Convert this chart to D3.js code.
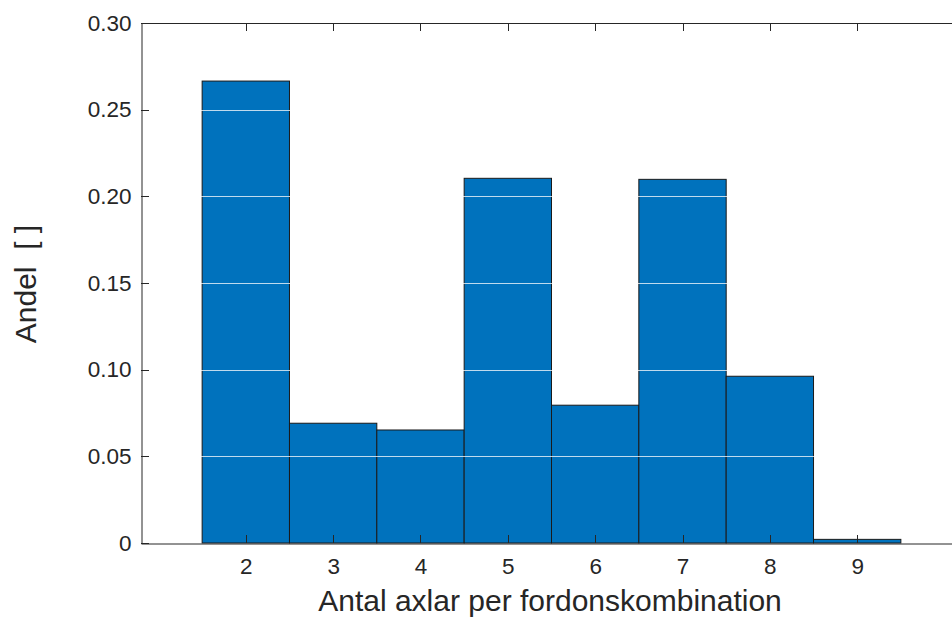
<!DOCTYPE html>
<html>
<head>
<meta charset="utf-8">
<script src="https://cdn.jsdelivr.net/npm/d3@7"></script>
<style>
  html, body { margin: 0; padding: 0; background: #fff; }
  text { font-family: "Liberation Sans", Arial, Helvetica, sans-serif; fill: #262626; white-space: pre; }
</style>
</head>
<body>
<svg id="chart" width="952" height="618"></svg>
<script>
// Share of vehicle combinations by number of axles
const axles = [2, 3, 4, 5, 6, 7, 8, 9];
const shares = [0.2665, 0.0691, 0.0652, 0.2104, 0.0795, 0.2098, 0.0962, 0.0021];
const yTicks = [0, 0.05, 0.10, 0.15, 0.20, 0.25, 0.30];
const yTickLabels = ["0", "0.05", "0.10", "0.15", "0.20", "0.25", "0.30"];
const xLabel = "Antal axlar per fordonskombination";
const yLabel = "Andel  [ ]";

const svg = d3.select("#chart");
const plotLeft = 141, plotTop = 23, plotBottom = 543, plotRight = 962;

const x = d3.scaleLinear().domain([0.8, 10.2]).range([plotLeft, plotRight]);
const y = d3.scaleLinear().domain([0, 0.30]).range([plotBottom, plotTop]);

const ink = "#262626";
const tickFont = 22.5;
const labelFont = 30;

// Bars (histogram bins of width 1 centred on each axle count)
svg.append("g").selectAll("rect")
  .data(axles.map((a, i) => ({ a, v: shares[i] })))
  .join("rect")
  .attr("x", d => x(d.a - 0.5))
  .attr("y", d => y(d.v))
  .attr("width", d => x(d.a + 0.5) - x(d.a - 0.5))
  .attr("height", d => y(0) - y(d.v))
  .attr("fill", "#0072BD")
  .attr("stroke", "#1a1a1a")
  .attr("stroke-width", 1);

// Horizontal grid lines, drawn on top of the bars
svg.append("g").selectAll("line")
  .data(yTicks.slice(1, -1))
  .join("line")
  .attr("x1", plotLeft).attr("x2", plotRight)
  .attr("y1", d => Math.round(y(d)) + 0.5)
  .attr("y2", d => Math.round(y(d)) + 0.5)
  .attr("stroke", "#ffffff")
  .attr("stroke-opacity", 0.75)
  .attr("stroke-width", 1);

// Axes: bottom, top (mirrored ticks), left
const xAxisB = d3.axisBottom(x).tickValues(axles).tickSize(0).tickPadding(15).tickFormat(d3.format("d"));
const gxb = svg.append("g").attr("transform", `translate(0,${plotBottom + 0.5})`).call(xAxisB);
gxb.select(".domain").attr("stroke", ink);
gxb.selectAll("text").attr("font-size", tickFont).style("fill", ink);

// inward tick marks on bottom and top
svg.append("g").selectAll("line")
  .data(axles).join("line")
  .attr("x1", d => Math.round(x(d)) + 0.5).attr("x2", d => Math.round(x(d)) + 0.5)
  .attr("y1", plotBottom).attr("y2", plotBottom - 8)
  .attr("stroke", ink);
svg.append("g").selectAll("line")
  .data(axles).join("line")
  .attr("x1", d => Math.round(x(d)) + 0.5).attr("x2", d => Math.round(x(d)) + 0.5)
  .attr("y1", plotTop).attr("y2", plotTop + 8)
  .attr("stroke", ink);
svg.append("line")
  .attr("x1", plotLeft).attr("x2", plotRight)
  .attr("y1", plotTop + 0.5).attr("y2", plotTop + 0.5)
  .attr("stroke", ink);

const yAxis = d3.axisLeft(y).tickValues(yTicks).tickSize(0).tickPadding(10)
  .tickFormat((d, i) => yTickLabels[i]);
const gy = svg.append("g").attr("transform", `translate(${plotLeft + 0.5},0)`).call(yAxis);
gy.select(".domain").attr("stroke", ink);
gy.selectAll("text").attr("font-size", tickFont).style("fill", ink);
svg.append("g").selectAll("line")
  .data(yTicks).join("line")
  .attr("x1", plotLeft).attr("x2", plotLeft + 8)
  .attr("y1", d => Math.round(y(d)) + 0.5).attr("y2", d => Math.round(y(d)) + 0.5)
  .attr("stroke", ink);

// Axis titles
svg.append("text")
  .attr("x", 550).attr("y", 611)
  .attr("text-anchor", "middle")
  .attr("font-size", labelFont)
  .text(xLabel);

svg.append("text")
  .attr("transform", `translate(36,${(plotTop + plotBottom) / 2 + 1}) rotate(-90)`)
  .attr("text-anchor", "middle")
  .attr("font-size", labelFont)
  .text(yLabel);
</script>
</body>
</html>
